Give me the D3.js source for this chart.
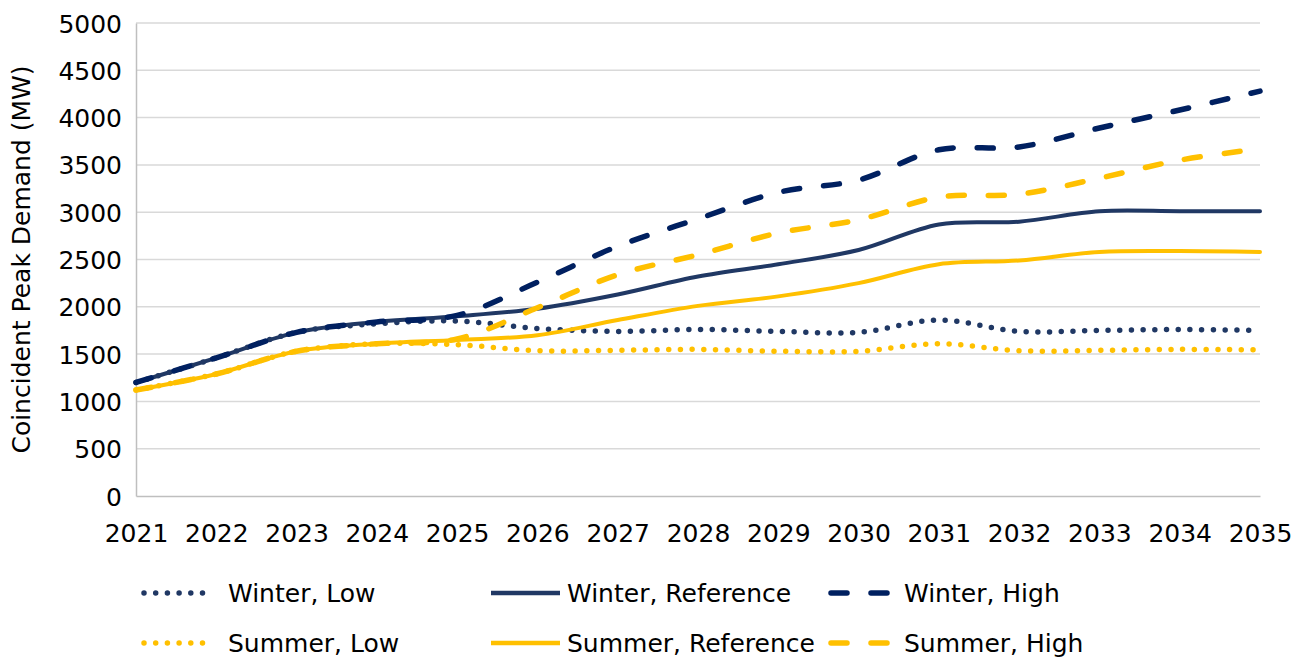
<!DOCTYPE html>
<html>
<head>
<meta charset="utf-8">
<script src="https://cdn.jsdelivr.net/npm/d3@7"></script>
<style>
  body { margin: 0; background: #fff; }
  svg { display: block; font-family: "DejaVu Sans", Verdana, sans-serif; }
</style>
</head>
<body>
<div class="content"></div>
<script>
// years on the x axis
var years = [2021, 2022, 2023, 2024, 2025, 2026, 2027, 2028, 2029, 2030, 2031, 2032, 2033, 2034, 2035];
var yTicks = [0, 500, 1000, 1500, 2000, 2500, 3000, 3500, 4000, 4500, 5000];

// values (MW)
var winterLow  = [1200, 1460, 1730, 1820, 1850, 1770, 1740, 1760, 1740, 1730, 1860, 1740, 1750, 1760, 1750];
var winterRef  = [1200, 1460, 1730, 1840, 1900, 1980, 2130, 2320, 2450, 2600, 2870, 2900, 3010, 3010, 3010];
var winterHigh = [1200, 1460, 1730, 1840, 1910, 2260, 2640, 2930, 3210, 3340, 3660, 3690, 3890, 4080, 4280];
var summerLow  = [1120, 1290, 1530, 1610, 1600, 1535, 1540, 1550, 1530, 1530, 1610, 1535, 1540, 1550, 1545];
var summerRef  = [1120, 1290, 1530, 1610, 1650, 1700, 1860, 2010, 2110, 2250, 2450, 2490, 2580, 2590, 2580];
var summerHigh = [1120, 1290, 1530, 1610, 1660, 1990, 2340, 2550, 2780, 2920, 3160, 3190, 3360, 3550, 3670];

var seriesNames = ["Winter, Low", "Winter, Reference", "Winter, High",
                   "Summer, Low", "Summer, Reference", "Summer, High"];

var navy = "#203864", darkNavy = "#002060", gold = "#ffc000";

var series = [
  {name: seriesNames[0], values: winterLow,  color: navy,     style: "dot"},
  {name: seriesNames[1], values: winterRef,  color: navy,     style: "solid"},
  {name: seriesNames[2], values: winterHigh, color: darkNavy, style: "dash"},
  {name: seriesNames[3], values: summerLow,  color: gold,     style: "dot"},
  {name: seriesNames[4], values: summerRef,  color: gold,     style: "solid"},
  {name: seriesNames[5], values: summerHigh, color: gold,     style: "dash"}
];

var W = 1309, H = 663;
var svg = d3.select(".content").append("svg").attr("width", W).attr("height", H);

var x = d3.scaleLinear().domain([2021, 2035]).range([136, 1260]);
var y = d3.scaleLinear().domain([0, 5000]).range([496, 23]);

// gridlines
svg.append("g")
  .selectAll("line")
  .data(yTicks.slice(1))
  .enter().append("line")
  .attr("x1", x(2021)).attr("x2", x(2035))
  .attr("y1", d => y(d)).attr("y2", d => y(d))
  .attr("stroke", "#d9d9d9").attr("stroke-width", 1.5);

// axes
var yAxis = svg.append("g")
  .attr("transform", "translate(" + x(2021) + ",0)")
  .call(d3.axisLeft(y).tickValues(yTicks).tickFormat(d3.format("d")).tickSize(0).tickPadding(14));
var xAxis = svg.append("g")
  .attr("transform", "translate(0," + y(0) + ")")
  .call(d3.axisBottom(x).tickValues(years).tickFormat(d3.format("d")).tickSize(0).tickPadding(28));

[yAxis, xAxis].forEach(function(a) {
  a.select(".domain").attr("stroke", "#bfbfbf").attr("stroke-width", 1.5);
  a.selectAll("text").attr("font-size", "25px").attr("fill", "#000")
    .attr("font-family", "'DejaVu Sans', Verdana, sans-serif");
});
yAxis.selectAll("text").attr("dy", "0.36em");

svg.append("text")
  .attr("transform", "translate(30," + y(2500) + ") rotate(-90)")
  .attr("text-anchor", "middle")
  .attr("font-size", "25px")
  .attr("fill", "#000")
  .text("Coincident Peak Demand (MW)");

function dashFor(style) {
  if (style === "dot") return "0 11.7";
  if (style === "dash") return "16 24";
  return null;
}

var line = d3.line()
  .x((d, i) => x(years[i]))
  .y(d => y(d))
  .curve(d3.curveCatmullRom.alpha(0.5));

series.forEach(function(s) {
  svg.append("path")
    .attr("d", line(s.values))
    .attr("fill", "none")
    .attr("stroke", s.color)
    .attr("stroke-width", s.style === "solid" ? 4 : 5.5)
    .attr("stroke-linecap", "round")
    .attr("stroke-dasharray", dashFor(s.style));
});

// legend
var legendCols = [140, 488, 828];
var legendRows = [593, 643];
series.forEach(function(s, i) {
  var cx = legendCols[i % 3], cy = legendRows[Math.floor(i / 3)];
  var g = svg.append("g").attr("transform", "translate(" + cx + "," + cy + ")");
  g.append("line")
    .attr("x1", s.style === "dot" ? 4 : 3).attr("x2", s.style === "dot" ? 72 : (s.style === "dash" ? 62 : 72))
    .attr("y1", 0).attr("y2", 0)
    .attr("stroke", s.color)
    .attr("stroke-width", s.style === "solid" ? 4.5 : 5.5)
    .attr("stroke-linecap", s.style === "solid" ? "butt" : "round")
    .attr("stroke-dasharray", s.style === "dot" ? "0 11.7" : (s.style === "dash" ? "16 24" : null));
  g.append("text")
    .attr("x", i % 3 === 0 ? 88 : (i % 3 === 1 ? 79 : 76))
    .attr("y", 0)
    .attr("dy", "0.36em")
    .attr("font-size", "25px")
    .attr("fill", "#000")
    .text(s.name);
});
</script>
</body>
</html>
